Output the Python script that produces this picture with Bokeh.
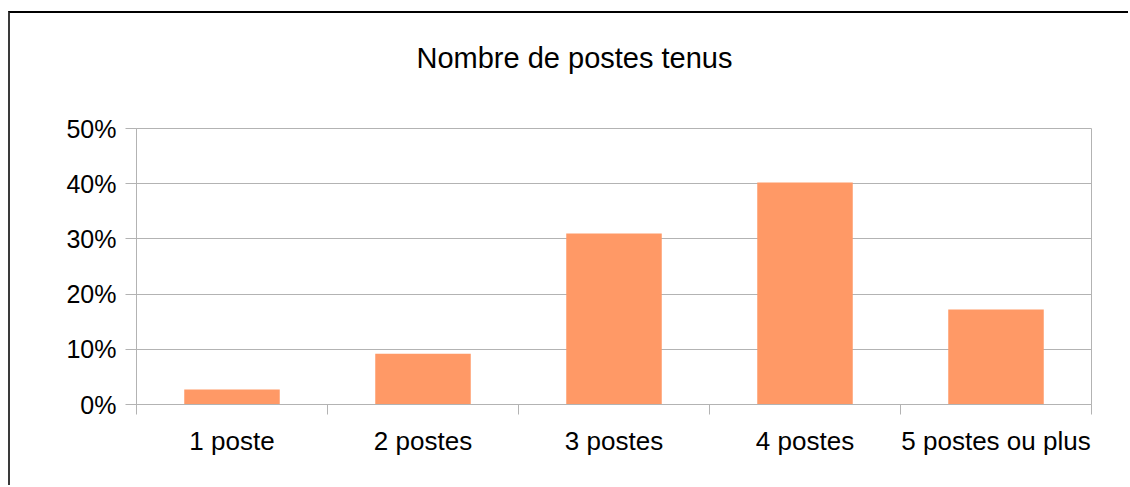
from bokeh.plotting import figure
from bokeh.models import ColumnDataSource, FixedTicker, NumeralTickFormatter, Range1d, Title
from bokeh.embed import file_html
from bokeh.resources import INLINE

categories = ["1 poste", "2 postes", "3 postes", "4 postes", "5 postes ou plus"]
shares = [0.027, 0.092, 0.310, 0.402, 0.172]
y_ticks = [0.0, 0.1, 0.2, 0.3, 0.4, 0.5]
title_text = "Nombre de postes tenus"

FONT = "Liberation Sans"
GRID = "#b3b3b3"

centers = [i + 0.5 for i in range(len(categories))]
src = ColumnDataSource(dict(x=centers, top=shares, cat=categories))

p = figure(width=1120, height=474, output_backend="svg", toolbar_location=None,
           x_range=Range1d(0, len(categories)), y_range=Range1d(0, 0.5),
           min_border_left=126, min_border_right=39, min_border_top=115,
           min_border_bottom=83, title=title_text)
p.styles = {"margin-left": "8px", "margin-top": "11px",
            "border-left": "2px solid #3a3a3a", "border-top": "2px solid black"}

p.vbar(x="x", top="top", bottom=0, width=0.5, source=src,
       fill_color="#ff9966", line_color=None)

p.title.text_font = FONT
p.title.text_font_size = "29px"
p.title.text_font_style = "normal"
p.title.text_color = "black"
p.title.align = "left"
p.title.offset = 280
p.title.standoff = 10

# spacer between the title and the plot area
p.add_layout(Title(text=" ", text_font_size="1px", standoff=47), "above")

xa = p.xaxis[0]
xa.ticker = FixedTicker(ticks=centers, minor_ticks=list(range(len(categories) + 1)))
xa.major_label_overrides = {c: lab for c, lab in zip(centers, categories)}
xa.major_tick_line_color = None
xa.major_tick_out = 0
xa.major_tick_in = 0
xa.minor_tick_out = 10
xa.minor_tick_in = 0
xa.minor_tick_line_color = GRID
xa.axis_line_color = GRID
xa.major_label_text_font = FONT
xa.major_label_text_font_size = "26px"
xa.major_label_text_color = "black"
xa.major_label_standoff = 11

ya = p.yaxis[0]
ya.ticker = FixedTicker(ticks=y_ticks)
ya.formatter = NumeralTickFormatter(format="0%")
ya.major_tick_out = 11
ya.major_tick_in = 0
ya.minor_tick_line_color = None
ya.major_tick_line_color = GRID
ya.axis_line_color = GRID
ya.major_label_text_font = FONT
ya.major_label_text_font_size = "25px"
ya.major_label_text_color = "black"
ya.major_label_standoff = 9

p.xgrid.grid_line_color = None
p.ygrid.ticker = FixedTicker(ticks=y_ticks)
p.ygrid.grid_line_color = GRID
p.outline_line_color = GRID
p.background_fill_color = "white"
p.border_fill_color = "white"

open("out.html", "w").write(file_html(p, INLINE))
